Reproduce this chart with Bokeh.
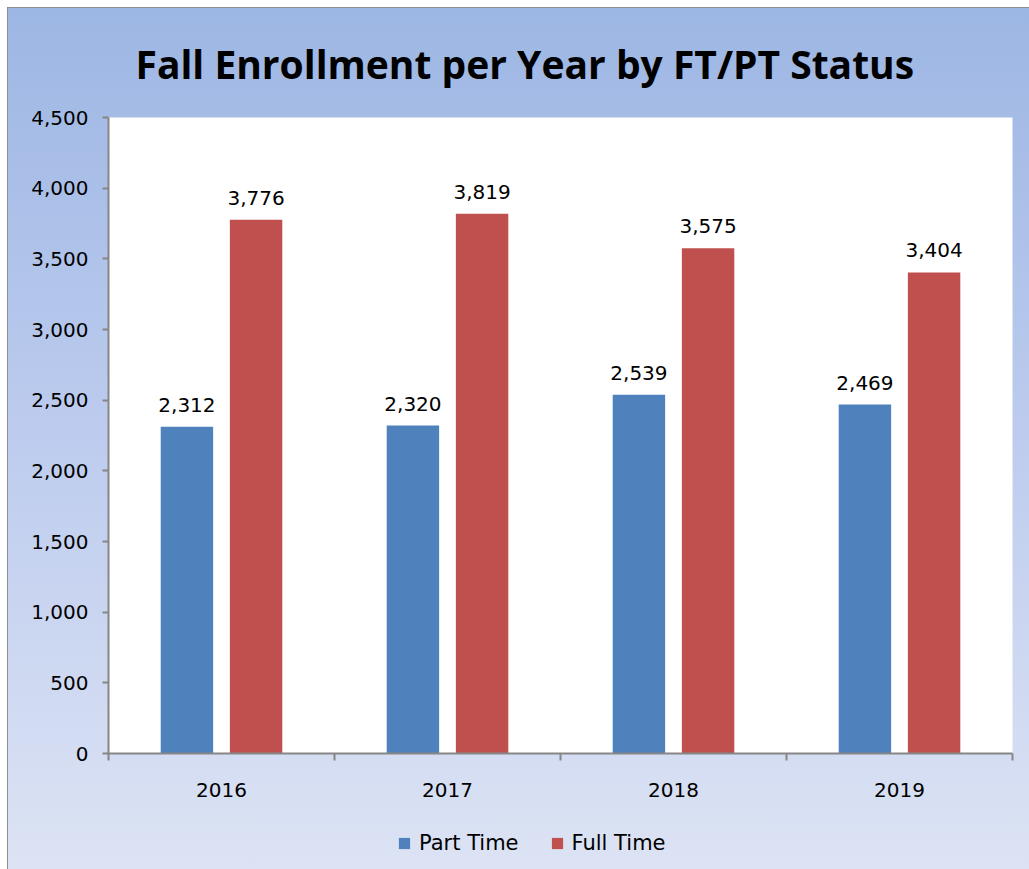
import numpy as np
from bokeh.plotting import figure
from bokeh.layouts import column
from bokeh.models import Range1d, FixedTicker, Legend, LegendItem, ColumnDataSource, NumeralTickFormatter
from bokeh.embed import file_html
from bokeh.resources import INLINE

years = ["2016", "2017", "2018", "2019"]
part_time = [2312, 2320, 2539, 2469]
full_time = [3776, 3819, 3575, 3404]
y_ticks = [0, 500, 1000, 1500, 2000, 2500, 3000, 3500, 4000, 4500]
title_text = "Fall Enrollment per Year by FT/PT Status"
series_names = ["Part Time", "Full Time"]

BLUE = "#4F81BD"
RED = "#C0504D"
FONT = "DejaVu Sans"

# background gradient stops (px, rgb)
TOTAL_H = 869
MAIN_H = 813
stops = [(0, (156, 182, 227)), (420, (188, 203, 238)), (869, (220, 227, 244))]


def col_at(y):
    for (y0, c0), (y1, c1) in zip(stops[:-1], stops[1:]):
        if y0 <= y <= y1:
            t = (y - y0) / (y1 - y0)
            c = [round(a + (b - a) * t) for a, b in zip(c0, c1)]
            return "#%02X%02X%02X" % tuple(c)
    return "#%02X%02X%02X" % stops[-1][1]


def hexc(c):
    return "#%02X%02X%02X" % c


grad_main = "linear-gradient(to bottom, %s 0px, %s 420px, %s %dpx)" % (
    hexc(stops[0][1]), hexc(stops[1][1]), col_at(MAIN_H), MAIN_H)
grad_leg = "linear-gradient(to bottom, %s 0px, %s %dpx)" % (
    col_at(MAIN_H), hexc(stops[2][1]), TOTAL_H - MAIN_H)

idx = np.arange(len(years)) + 0.5
off = 0.153
bw = 0.232

p = figure(frame_width=904, frame_height=636, output_backend="svg", toolbar_location=None,
           x_range=Range1d(0, len(years)), y_range=Range1d(0, 4500),
           min_border_left=108, min_border_right=17, min_border_top=117, min_border_bottom=60,
           title=title_text)
p.styles = {"background": grad_main,
            "box-shadow": "inset 7px 7px 0 0 white, inset 8px 8px 0 0 #8e8e8e"}
p.border_fill_color = None
p.border_fill_alpha = 0
p.background_fill_color = "white"
p.outline_line_color = None
p.grid.visible = False

p.title.align = "left"
p.title.offset = 27
p.title.text_font = "Open Sans"
p.title.text_font_style = "bold"
p.title.text_font_size = "39px"
p.title.text_color = "black"
p.title.standoff = 56

src_pt = ColumnDataSource(dict(x=idx - off, top=part_time, lab=[f"{v:,}" for v in part_time]))
src_ft = ColumnDataSource(dict(x=idx + off, top=full_time, lab=[f"{v:,}" for v in full_time]))

p.vbar(x="x", top="top", width=bw, bottom=0, source=src_pt, fill_color=BLUE, line_color=None)
p.vbar(x="x", top="top", width=bw, bottom=0, source=src_ft, fill_color=RED, line_color=None)

for src in (src_pt, src_ft):
    p.text(x="x", y="top", text="lab", source=src, text_align="center", text_baseline="bottom",
           y_offset=-15, text_font_size="20px", text_color="black", text_font={"value": FONT})

# axes
xa = p.xaxis[0]
xa.ticker = FixedTicker(ticks=list(idx), minor_ticks=list(range(len(years) + 1)))
xa.major_label_overrides = {float(v): y for v, y in zip(idx, years)}
xa.major_tick_out = 0
xa.major_tick_in = 0
xa.minor_tick_out = 7
xa.minor_tick_in = 0
xa.minor_tick_line_color = "#868686"
xa.minor_tick_line_width = 2
xa.axis_line_color = "#868686"
xa.axis_line_width = 2
xa.major_label_text_font = FONT
xa.major_label_text_font_size = "20px"
xa.major_label_text_color = "black"
xa.major_label_standoff = 22

ya = p.yaxis[0]
ya.ticker = FixedTicker(ticks=y_ticks)
ya.formatter = NumeralTickFormatter(format="0,0")
ya.major_tick_out = 6
ya.major_tick_in = 0
ya.minor_tick_out = 0
ya.minor_tick_in = 0
ya.major_tick_line_color = "#868686"
ya.major_tick_line_width = 2
ya.axis_line_color = "#868686"
ya.axis_line_width = 2
ya.major_label_text_font = FONT
ya.major_label_text_font_size = "20px"
ya.major_label_text_color = "black"
ya.major_label_standoff = 14

# legend strip (continues the chart background below the axis)
lf = figure(width=1029, height=TOTAL_H - MAIN_H, output_backend="svg", toolbar_location=None,
            x_range=Range1d(0, 1), y_range=Range1d(0, 1),
            x_axis_location=None, y_axis_location=None,
            min_border_left=0, min_border_right=0, min_border_top=0, min_border_bottom=0)
lf.styles = {"background": grad_leg,
             "box-shadow": "inset 7px 0 0 0 white, inset 8px 0 0 0 #8e8e8e"}
lf.border_fill_color = None
lf.border_fill_alpha = 0
lf.background_fill_color = None
lf.background_fill_alpha = 0
lf.outline_line_color = None
lf.grid.visible = False

nan = float("nan")
g_pt = lf.vbar(x=[nan], top=[nan], width=0.1, fill_color=BLUE, line_color=None)
g_ft = lf.vbar(x=[nan], top=[nan], width=0.1, fill_color=RED, line_color=None)

legend = Legend(items=[LegendItem(label=series_names[0], renderers=[g_pt]),
                       LegendItem(label=series_names[1], renderers=[g_ft])],
                orientation="horizontal", location=(289, 14),
                label_text_font=FONT, label_text_font_size="21px", label_text_color="black",
                glyph_width=14, glyph_height=14, label_standoff=8, spacing=31,
                label_height=20, padding=0, margin=0, border_line_color=None,
                background_fill_alpha=0)
lf.add_layout(legend)

layout = column(p, lf, spacing=0)
open("out.html", "w").write(file_html(layout, INLINE))
